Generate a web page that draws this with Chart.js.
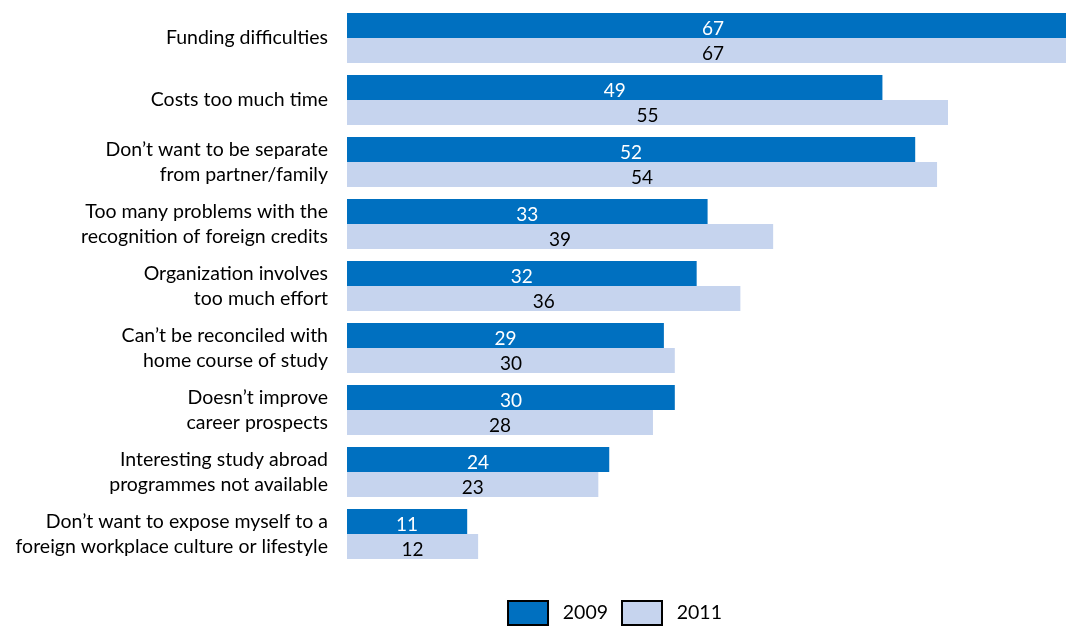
<!DOCTYPE html>
<html>
<head>
<meta charset="utf-8">
<script src="https://cdn.jsdelivr.net/npm/chart.js@4/dist/chart.umd.min.js"></script>
<style>
  html, body { margin: 0; padding: 0; background: #fff; overflow: hidden; }
  #wrap { width: 1066px; height: 626px; position: relative; }
</style>
</head>
<body>
<div id="wrap"><canvas id="reasonsChart"></canvas></div>
<script>
// reasons not to study abroad, % of students
const categories = [
  'Funding difficulties',
  'Costs too much time',
  ['Don\u2019t want to be separate', 'from partner/family'],
  ['Too many problems with the', 'recognition of foreign credits'],
  ['Organization involves', 'too much effort'],
  ['Can\u2019t be reconciled with', 'home course of study'],
  ['Doesn\u2019t improve', 'career prospects'],
  ['Interesting study abroad', 'programmes not available'],
  ['Don\u2019t want to expose myself to a', 'foreign workplace culture or lifestyle']
];
const values2009 = [67, 49, 52, 33, 32, 29, 30, 24, 11];
const values2011 = [67, 55, 54, 39, 36, 30, 28, 23, 12];
const seriesNames = ['2009', '2011'];

const FONT = 'Lato, "Noto Sans", sans-serif';

// numbers in the middle of each bar
const barLabels = {
  id: 'barLabels',
  afterDatasetsDraw(chart) {
    const ctx = chart.ctx;
    ctx.save();
    ctx.font = '19px ' + FONT;
    ctx.textAlign = 'center';
    ctx.textBaseline = 'middle';
    chart.data.datasets.forEach((ds, i) => {
      chart.getDatasetMeta(i).data.forEach((bar, j) => {
        ctx.fillStyle = i === 0 ? '#ffffff' : '#000000';
        ctx.fillText(ds.data[j], (bar.x + bar.base) / 2, bar.y + 3);
      });
    });
    ctx.restore();
  }
};

// legend sits a bit right of centre and low in the original
const moveLegend = {
  id: 'moveLegend',
  afterLayout(chart) {
    const lg = chart.legend;
    const h = lg.bottom - lg.top;
    lg.left += 82;
    lg.right += 82;
    lg.top = 601 - 14;
    lg.bottom = lg.top + h;
  }
};

const ctx = document.getElementById('reasonsChart').getContext('2d');
new Chart(ctx, {
  type: 'bar',
  data: {
    labels: categories,
    datasets: [{
      label: seriesNames[0],
      data: values2009,
      backgroundColor: '#0070C0'
    }, {
      label: seriesNames[1],
      data: values2011,
      backgroundColor: '#C6D4EE'
    }]
  },
  options: {
    indexAxis: 'y',
    responsive: true,
    maintainAspectRatio: false,
    animation: false,
    layout: { padding: { top: 7, right: 0, left: 0, bottom: 13 } },
    datasets: {
      bar: { categoryPercentage: 0.808, barPercentage: 1 }
    },
    scales: {
      x: { display: false, min: 0, max: 65.8 },
      y: {
        grid: { display: false },
        border: { display: false },
        afterFit: s => { s.width = 347; s.paddingTop = 0; s.paddingBottom = 0; },
        ticks: {
          color: '#000',
          padding: 11,
          font: { family: FONT, size: 19.5, lineHeight: 1.28 }
        }
      }
    },
    plugins: {
      tooltip: { enabled: false },
      legend: {
        position: 'bottom',
        labels: {
          boxWidth: 40,
          boxHeight: 24,
          padding: 14,
          color: '#000',
          font: { family: FONT, size: 19.5 },
          generateLabels(chart) {
            return Chart.defaults.plugins.legend.labels.generateLabels(chart).map(item => {
              item.text = ' ' + item.text;
              item.strokeStyle = '#000';
              item.lineWidth = 2;
              return item;
            });
          }
        }
      }
    }
  },
  plugins: [barLabels, moveLegend]
});
</script>
</body>
</html>
